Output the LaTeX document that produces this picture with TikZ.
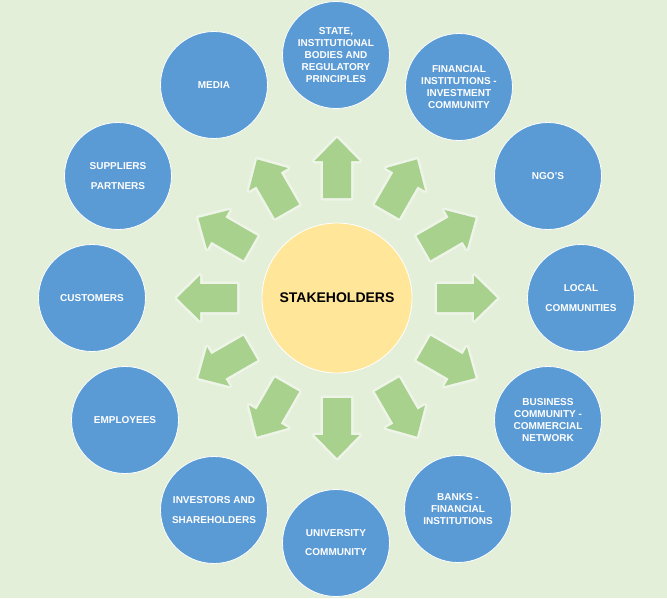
\documentclass[tikz,border=0pt]{standalone}
\usepackage{fontspec}
\setmainfont{Liberation Sans}
\definecolor{bg}{HTML}{E3EFD9}
\definecolor{blu}{HTML}{5B9BD5}
\definecolor{yel}{HTML}{FFE699}
\definecolor{grn}{HTML}{A9D18E}
\begin{document}
\begin{tikzpicture}[x=1pt,y=-1pt,
  stake/.style={circle, fill=blu, draw=white, line width=0.8pt, minimum size=107pt, inner sep=0pt,
    text=white, font=\bfseries\fontsize{10}{12}\selectfont, align=center},
  hub/.style={circle, fill=yel, draw=white, line width=0.8pt, minimum size=150pt, inner sep=0pt,
    text=black, font=\bfseries\fontsize{14}{16}\selectfont},
  blockarrow/.style={fill=grn, preaction={draw=white, draw opacity=0.4, line width=5pt, line join=round}}
]
\fill[bg] (0,0) rectangle (667,598);
\useasboundingbox (0,0) rectangle (667,598);

\node[hub] (hub) at (337,298) {STAKEHOLDERS};

\foreach \a in {0,30,...,330}
  \path[blockarrow, shift={(hub.center)}, rotate=\a]
    (100,-14) -- (137,-14) -- (137,-22.5) -- (160,0) -- (137,22.5) -- (137,14) -- (100,14) -- cycle;

\node[stake] (state) at (336,55) {STATE,\\INSTITUTIONAL\\BODIES AND\\REGULATORY\\PRINCIPLES};
\node[stake] (fin) at (459,87) {FINANCIAL\\INSTITUTIONS -\\INVESTMENT\\COMMUNITY};
\node[stake] (ngo) at (548,176) {NGO’S};
\node[stake] (local) at (581,298) {LOCAL\\[8pt]COMMUNITIES};
\node[stake] (business) at (548,420) {BUSINESS\\COMMUNITY -\\COMMERCIAL\\NETWORK};
\node[stake] (banks) at (458,509) {BANKS -\\FINANCIAL\\INSTITUTIONS};
\node[stake] (univ) at (336,543) {UNIVERSITY\\[7pt]COMMUNITY};
\node[stake] (investors) at (214,510) {INVESTORS AND\\[8pt]SHAREHOLDERS};
\node[stake] (employees) at (125,420) {EMPLOYEES};
\node[stake] (customers) at (92,298) {CUSTOMERS};
\node[stake] (suppliers) at (118,176) {SUPPLIERS\\[8pt]PARTNERS};
\node[stake] (media) at (214,85) {MEDIA};
\end{tikzpicture}
\end{document}
